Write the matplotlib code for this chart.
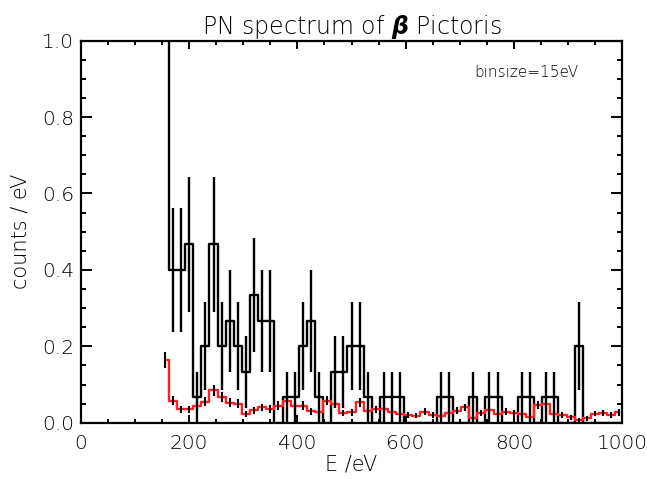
import numpy as np
import matplotlib
matplotlib.use("Agg")
import matplotlib.pyplot as plt
from matplotlib.ticker import MultipleLocator

# bins of 15 eV, first centre at 155 eV
binsize = 15
e_first = 155
nbins = 57

# source counts per bin (black)
src_counts = [20, 6, 6, 7, 1, 3, 7, 3, 4, 3,
              2, 5, 4, 4, 0, 1, 1, 3, 4, 1,
              0, 2, 2, 3, 3, 1, 0, 1, 1, 1,
              0, 0, 0, 0, 1, 1, 0, 0, 1, 0,
              1, 1, 0, 0, 1, 1, 0, 1, 1, 0,
              0, 3, 0, 0, 0, 0, 0]

# background level, counts / eV (red)
bkg = [0.164, 0.058, 0.035, 0.035, 0.045, 0.055, 0.085, 0.068, 0.052, 0.050,
       0.022, 0.033, 0.040, 0.036, 0.045, 0.057, 0.044, 0.045, 0.030, 0.027,
       0.058, 0.050, 0.025, 0.027, 0.053, 0.030, 0.035, 0.035, 0.029, 0.024,
       0.020, 0.018, 0.029, 0.020, 0.018, 0.026, 0.031, 0.040, 0.011, 0.026,
       0.033, 0.024, 0.029, 0.026, 0.024, 0.016, 0.046, 0.050, 0.024, 0.020,
       0.014, 0.007, 0.011, 0.024, 0.026, 0.020, 0.027]

energy = e_first + binsize * np.arange(nbins)
counts = np.array(src_counts, dtype=float)
src = counts / binsize
src_err = np.sqrt(counts) / binsize
bkg = np.array(bkg)
bkg_err = 0.05 * np.sqrt(bkg)

fig = plt.figure(figsize=(6.47, 4.79), dpi=100)
ax = fig.add_axes([81/647, 1 - 422.7/479, (622-81)/647, (422.7-40.7)/479])

ax.plot(energy, src, drawstyle="steps-mid", color="k", lw=1.7)
m = counts > 0
ax.errorbar(energy[m], src[m], yerr=src_err[m], fmt="none", ecolor="k", elinewidth=1.7, capsize=0)
ax.plot(energy, bkg, drawstyle="steps-mid", color="#ff2020", lw=1.7, zorder=3)
ax.errorbar(energy, bkg, yerr=bkg_err, fmt="none", ecolor="k", elinewidth=1.5, capsize=0, zorder=4)

ax.set_xlim(0, 1000)
ax.set_ylim(0, 1.0)
ax.xaxis.set_major_locator(MultipleLocator(200))
ax.xaxis.set_minor_locator(MultipleLocator(50))
ax.yaxis.set_major_locator(MultipleLocator(0.2))
ax.yaxis.set_minor_locator(MultipleLocator(0.05))
ax.yaxis.set_major_formatter(matplotlib.ticker.FormatStrFormatter("%.1f"))

for s in ax.spines.values():
    s.set_linewidth(1.6)
ax.tick_params(which="both", direction="in", top=True, right=True, width=1.4,
               labelsize=14.5, labelcolor="black")
ax.tick_params(axis="x", which="major", length=5.5, pad=8)
ax.tick_params(axis="x", which="minor", length=2.8)
ax.tick_params(axis="y", which="major", length=7.8, pad=5)
ax.tick_params(axis="y", which="minor", length=3.9)
for lab in ax.get_xticklabels() + ax.get_yticklabels():
    lab.set_fontweight("light")

ax.set_title(r"PN spectrum of $\boldsymbol{\beta}$ Pictoris", fontsize=17, fontweight="light", pad=5)
ax.set_xlabel("E /eV", fontsize=15, fontweight="light", labelpad=1)
ax.set_ylabel("counts / eV", fontsize=15, fontweight="light", labelpad=8)
ax.text(0.919, 0.918, "binsize=15eV", transform=ax.transAxes, ha="right", va="center",
        fontsize=11, fontweight="light")

fig.savefig("out.png", dpi=100)
